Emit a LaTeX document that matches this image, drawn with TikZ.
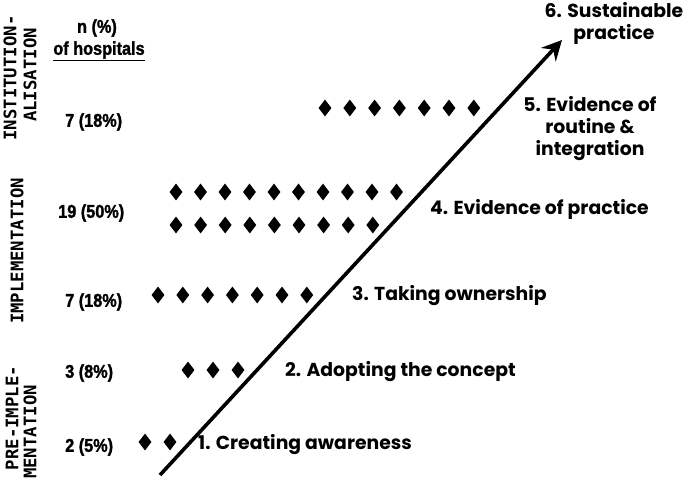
\documentclass[tikz,border=0pt]{standalone}
\usepackage{fontspec}
\setmainfont{Liberation Sans}
\newfontfamily\countfont[FakeStretch=0.88,FakeBold=1.5]{Liberation Sans Bold}
\newfontfamily\stagefont{Poppins}
\newfontfamily\phasefont{DejaVu Sans Mono}
\usetikzlibrary{shapes.geometric,arrows.meta}
\begin{document}
\begin{tikzpicture}[x=1pt,y=-1pt,
  dia/.style={shape=diamond,fill=black,inner sep=0pt,minimum width=13pt,minimum height=17pt},
  stage/.style={font=\stagefont\bfseries\fontsize{18.8}{22}\selectfont,inner sep=0pt},
  count/.style={font=\countfont\fontsize{18.5}{20}\selectfont,inner sep=0pt},
  phase/.style={font=\phasefont\bfseries\fontsize{17.3}{18}\selectfont,inner sep=0pt,rotate=90},
  arr/.style={line width=3.6pt,-{Stealth[length=20pt,width=20pt,inset=7pt]}}]
\useasboundingbox (0,0) rectangle (685,480);
% arrow
\coordinate (a0) at (160,475);
\coordinate (a1) at (562,40);
\draw[arr] (a0) -- (a1);
% header
\node[count] (hn) at (97,28) {n (\%)};
\node[count] (hh) at (99,51) {\underline{of hospitals}};
% counts
\node[count,anchor=west] (c5) at (65,122) {7 (18\%)};
\node[count,anchor=west] (c4) at (58,213) {19 (50\%)};
\node[count,anchor=west] (c3) at (65,302) {7 (18\%)};
\node[count,anchor=west] (c2) at (65,373) {3 (8\%)};
\node[count,anchor=west] (c1) at (65,447) {2 (5\%)};
% phases
\node[phase] (p1a) at (10,78) {INSTITUTION-};
\node[phase] (p1b) at (30,75) {ALISATION};
\node[phase] (p2) at (17,251) {IMPLEMENTATION};
\node[phase] (p3a) at (12,418) {PRE-IMPLE-};
\node[phase] (p3b) at (30,432) {MENTATION};
% stages
\node[stage,align=center] (s6) at (614,23) {6. Sustainable\\practice};
\node[stage,align=center] (s5) at (590,129) {5. Evidence of\\routine \&\\integration};
\node[stage,anchor=west] (s4) at (430,209) {4. Evidence of practice};
\node[stage,anchor=west] (s3) at (352,296) {3. Taking ownership};
\node[stage,anchor=west] (s2) at (285,372) {2. Adopting the concept};
\node[stage,anchor=west] (s1) at (198,445) {1. Creating awareness};
% diamonds
\foreach \i in {0,...,6} \node[dia] (d5\i) at (325+24.8*\i,108) {};
\foreach \i in {0,...,9} \node[dia] (d4a\i) at (176+24.5*\i,192) {};
\foreach \i in {0,...,8} \node[dia] (d4b\i) at (176+24.6*\i,225) {};
\foreach \i in {0,...,6} \node[dia] (d3\i) at (158+24.8*\i,295) {};
\foreach \i in {0,...,2} \node[dia] (d2\i) at (188+25*\i,370) {};
\foreach \i in {0,...,1} \node[dia] (d1\i) at (145+25*\i,442) {};
\end{tikzpicture}
\end{document}
